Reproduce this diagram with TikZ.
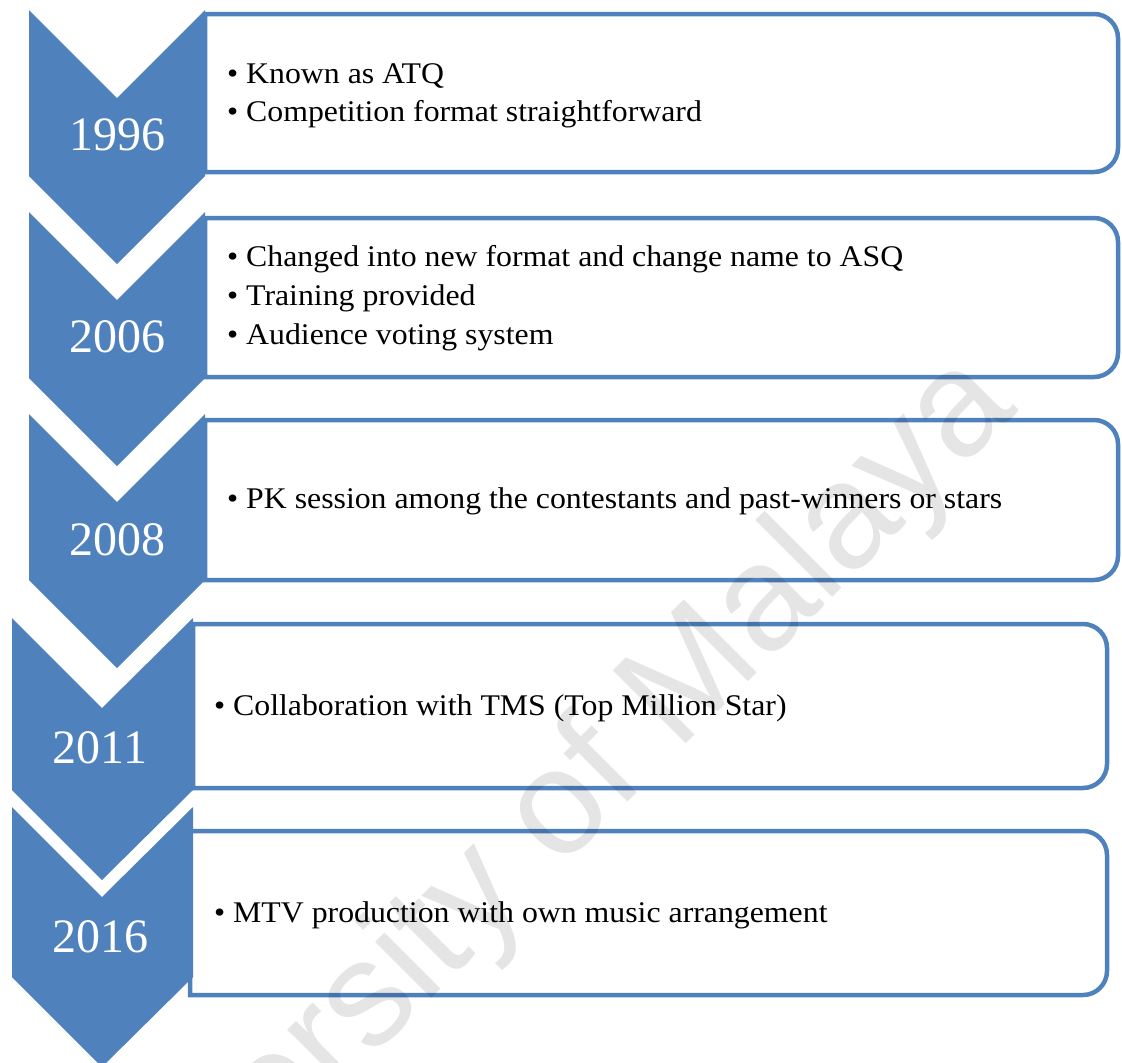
\documentclass[tikz,border=0pt]{standalone}
\usepackage{fontspec}
\setmainfont{Liberation Serif}
\newfontfamily\bodyfont[FakeStretch=1.06]{Liberation Serif}
\newfontfamily\wmfont{Liberation Sans}
\definecolor{chevblue}{HTML}{4F81BD}
\tikzset{
  chev/.style={fill=chevblue},
  boxline/.style={draw=chevblue, line width=4.5pt},
  year/.style={text=white, inner sep=0pt, font=\fontsize{48}{48}\selectfont},
  item/.style={anchor=base west, inner sep=0pt, font=\bodyfont\fontsize{30}{36}\selectfont},
  watermark/.style={text=black, text opacity=0.1, inner sep=0pt, font=\wmfont\fontsize{150}{150}\selectfont}
}
\newcommand{\bul}{\makebox[19pt][l]{•}}
\begin{document}
\begin{tikzpicture}[x=1pt, y=-1pt]
\useasboundingbox (0,0) rectangle (1122,1063);

% 右侧圆角框
\draw[boxline] (205,14) -- (1094,14) arc[start angle=-90, end angle=0, radius=24] -- (1118,148) arc[start angle=0, end angle=90, radius=24] -- (205,172) -- cycle;   % 1996
\draw[boxline] (205,218) -- (1094,218) arc[start angle=-90, end angle=0, radius=24] -- (1118,353) arc[start angle=0, end angle=90, radius=24] -- (205,377) -- cycle; % 2006
\draw[boxline] (205,420) -- (1094,420) arc[start angle=-90, end angle=0, radius=24] -- (1118,556) arc[start angle=0, end angle=90, radius=24] -- (205,580) -- cycle; % 2008
\draw[boxline] (193,624) -- (1083,624) arc[start angle=-90, end angle=0, radius=24] -- (1107,764) arc[start angle=0, end angle=90, radius=24] -- (193,788) -- cycle; % 2011
\draw[boxline] (190,831) -- (1083,831) arc[start angle=-90, end angle=0, radius=24] -- (1107,971) arc[start angle=0, end angle=90, radius=24] -- (190,995) -- cycle; % 2016

% 左侧箭头
\fill[chev] (29,10) -- (117,98) -- (205,10) -- (205,176) -- (117,264) -- (29,176) -- cycle;       % 1996
\fill[chev] (29,212) -- (117,300) -- (205,212) -- (205,378) -- (117,466) -- (29,378) -- cycle;    % 2006
\fill[chev] (29,414) -- (117,502) -- (205,414) -- (205,580) -- (117,668) -- (29,580) -- cycle;    % 2008
\fill[chev] (12,618) -- (102,708) -- (193,618) -- (193,790) -- (102,880) -- (12,790) -- cycle;    % 2011
\fill[chev] (12,807) -- (102,897) -- (193,807) -- (193,977) -- (102,1067) -- (12,977) -- cycle;   % 2016

% 年份
\node[year] (y1996) at (117,135) {1996};
\node[year] (y2006) at (117,337) {2006};
\node[year] (y2008) at (117,540) {2008};
\node[year] (y2011) at (100,748) {2011};
\node[year] (y2016) at (100,937) {2016};

% 条目
\node[item] (t1996a) at (227,83)  {\bul Known as ATQ};
\node[item] (t1996b) at (227,121) {\bul Competition format straightforward};
\node[item] (t2006a) at (227,266) {\bul Changed into new format and change name to ASQ};
\node[item] (t2006b) at (227,305) {\bul Training provided};
\node[item] (t2006c) at (227,344) {\bul Audience voting system};
\node[item] (t2008a) at (227,508) {\bul PK session among the contestants and past-winners or stars};
\node[item] (t2011a) at (214,715) {\bul Collaboration with TMS (Top Million Star)};
\node[item] (t2016a) at (214,922) {\bul MTV production with own music arrangement};

% 水印
\node[watermark, rotate=45, anchor=base east] (wm) at (1020,410) {University of Malaya};

\end{tikzpicture}
\end{document}
